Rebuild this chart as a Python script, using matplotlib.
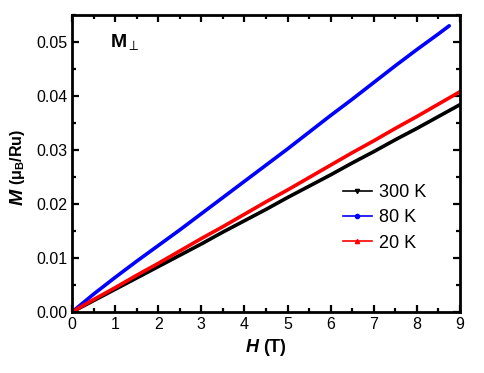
import matplotlib
matplotlib.use("Agg")
import matplotlib.pyplot as plt
from matplotlib.lines import Line2D
from matplotlib.ticker import MultipleLocator, FormatStrFormatter

plt.rcParams['font.family'] = ['Liberation Sans', 'DejaVu Sans']
plt.rcParams['mathtext.fontset'] = 'custom'
plt.rcParams['mathtext.rm'] = 'Liberation Sans'
plt.rcParams['mathtext.bf'] = 'Liberation Sans:bold'
plt.rcParams['mathtext.it'] = 'Liberation Sans:italic'
plt.rcParams['mathtext.bfit'] = 'Liberation Sans:italic:bold'

H_300 = [0, 0.5, 1, 1.5, 2, 2.5, 3, 3.5, 4, 4.5, 5, 5.5, 6, 6.5, 7, 7.5, 8, 8.5, 9]
M_300 = [0, 0.0021, 0.0042, 0.0063, 0.0084, 0.0105, 0.0126, 0.0148, 0.0169, 0.0190,
         0.0212, 0.0233, 0.0254, 0.0276, 0.0297, 0.0319, 0.0340, 0.0362, 0.0384]
H_80 = [0, 0.5, 1, 1.5, 2, 2.5, 3, 3.5, 4, 4.5, 5, 5.5, 6, 6.5, 7, 7.5, 8, 8.5, 8.75]
M_80 = [0, 0.0033, 0.0064, 0.0094, 0.0123, 0.0152, 0.0182, 0.0212, 0.0242, 0.0272,
        0.0302, 0.0333, 0.0364, 0.0394, 0.0425, 0.0456, 0.0486, 0.0515, 0.0530]
H_20 = [0, 0.5, 1, 1.5, 2, 2.5, 3, 3.5, 4, 4.5, 5, 5.5, 6, 6.5, 7, 7.5, 8, 8.5, 9]
M_20 = [0, 0.0023, 0.0045, 0.0068, 0.0090, 0.0113, 0.0136, 0.0158, 0.0181, 0.0204,
        0.0226, 0.0249, 0.0272, 0.0295, 0.0317, 0.0340, 0.0362, 0.0385, 0.0408]
labels = ['300 K', '80 K', '20 K']
colors = ['black', '#0000ff', '#ff0000']
markers = ['v', 'o', '^']

W, Hpx = 485, 373
fig = plt.figure(figsize=(4.85, 3.73), dpi=100)
ax = fig.add_axes([72 / W, 1 - 312 / Hpx, 388 / W, 297 / Hpx])

for (h, m, c) in [(H_300, M_300, colors[0]), (H_80, M_80, colors[1]), (H_20, M_20, colors[2])]:
    ax.plot(h, m, color=c, lw=2.6, solid_capstyle='round')

ax.set_xlim(0, 9)
ax.set_ylim(0, 0.055)
ax.xaxis.set_major_locator(MultipleLocator(1))
ax.xaxis.set_minor_locator(MultipleLocator(0.5))
ax.yaxis.set_major_locator(MultipleLocator(0.01))
ax.yaxis.set_minor_locator(MultipleLocator(0.005))
ax.yaxis.set_major_formatter(FormatStrFormatter('%.2f'))
ax.tick_params(which='both', direction='in', top=True, right=True, width=1.6,
               labelsize=11.5)
ax.tick_params(which='major', length=5)
ax.tick_params(which='minor', length=3)
for s in ax.spines.values():
    s.set_linewidth(2)

ax.set_xlabel(r'$\mathbfit{H}$ (T)', fontsize=13, fontweight='bold', labelpad=4)

# y label: large bold-italic M plus smaller unit part
fig.text(27 / W, 1 - 187 / Hpx, r'$\mathbfit{M}$', fontsize=14, rotation=90,
         ha='right', va='top')
fig.text(27 / W, 1 - 185 / Hpx, r'$\mathbf{(\mu_B/Ru)}$', fontsize=11.5, rotation=90,
         ha='right', va='bottom')

ax.text(0.88, 0.0491, r'$\mathbf{M}_{\perp}$', fontsize=14)

handles = [Line2D([], [], color=c, lw=1.2, marker=mk, ms=3) for c, mk in zip(colors, markers)]
ax.legend(handles, labels, loc='center left', bbox_to_anchor=((343 - 72) / 388, (312 - 218) / 297),
          frameon=False, borderaxespad=0, borderpad=0,
          fontsize=13, handlelength=1.6, handletextpad=0.4, labelspacing=0.45)

fig.savefig('out.png', dpi=100)
